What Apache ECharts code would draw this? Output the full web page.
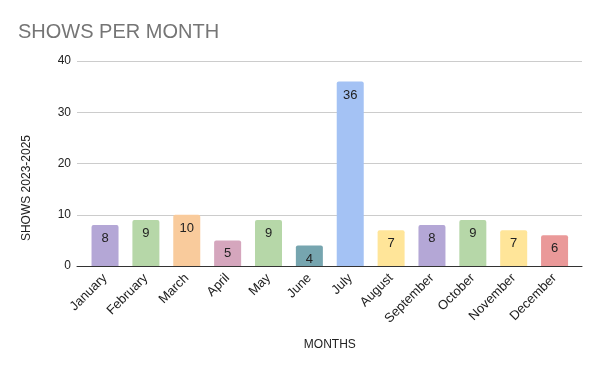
<!DOCTYPE html>
<html><head><meta charset="utf-8">
<script src="https://cdn.jsdelivr.net/npm/echarts@6/dist/echarts.min.js"></script>
<style>html,body{margin:0;padding:0;background:#fff}#c{width:600px;height:371px}</style>
</head><body><div id="c"></div>
<script>
const months = ["January","February","March","April","May","June","July","August","September","October","November","December"];
const shows = [8,9,10,5,9,4,36,7,8,9,7,6];
const barColors = ["#b4a7d6","#b6d7a8","#f9cb9c","#d5a6bd","#b6d7a8","#76a5af","#a4c2f4","#ffe599","#b4a7d6","#b6d7a8","#ffe599","#ea9999"];
const yTicks = [0,10,20,30,40];
const FF = '"Liberation Sans", Arial, sans-serif';
const yMin = yTicks[0], yMax = yTicks[yTicks.length-1];

const chart = echarts.init(document.getElementById('c'), null, {renderer:'canvas'});
chart.setOption({
  animation:false,
  backgroundColor:'#ffffff',
  title:{text:'SHOWS PER MONTH', left:13, top:17, textStyle:{fontFamily:FF, fontSize:20, fontWeight:'normal', color:'#757575'}},
  grid:[
    {left:77, right:18, top:61, bottom:105},
    {left:84.6, right:25, top:61, bottom:105}
  ],
  xAxis:[
    {type:'category', gridIndex:0, data:[''], axisLine:{lineStyle:{color:'#333333', width:1}}, axisTick:{show:false}, axisLabel:{show:false}, z:5},
    {type:'category', gridIndex:1, data:months,
      axisLine:{show:false}, axisTick:{show:false},
      axisLabel:{rotate:45, fontSize:13, color:'#222222', fontFamily:FF, margin:10, interval:0},
      name:'MONTHS', nameLocation:'middle', nameGap:73,
      nameTextStyle:{fontSize:12, color:'#222222', fontFamily:FF}}
  ],
  yAxis:[
    {type:'value', gridIndex:0, min:yMin, max:yMax, interval:10,
      axisLine:{show:false}, axisTick:{show:false},
      splitLine:{lineStyle:{color:'#cccccc', width:1}},
      axisLabel:{fontSize:12, color:'#222222', fontFamily:FF, margin:6}},
    {type:'value', gridIndex:1, min:yMin, max:yMax, interval:10,
      axisLine:{show:false}, axisTick:{show:false}, splitLine:{show:false}, axisLabel:{show:false}}
  ],
  graphic:[{type:'text', left:21, top:135, rotation:Math.PI/2,
    style:{text:'SHOWS 2023-2025', font:'12px "Liberation Sans", Arial, sans-serif', fill:'#222222'}}],
  series:[{type:'bar', xAxisIndex:1, yAxisIndex:1, barWidth:27,
    data:shows.map((v,i)=>({value:v, itemStyle:{color:barColors[i], borderRadius:[2,2,0,0]}})),
    label:{show:true, position:'insideTop', distance:7, fontSize:13, color:'#222222', fontFamily:FF}
  }]
});
</script></body></html>
